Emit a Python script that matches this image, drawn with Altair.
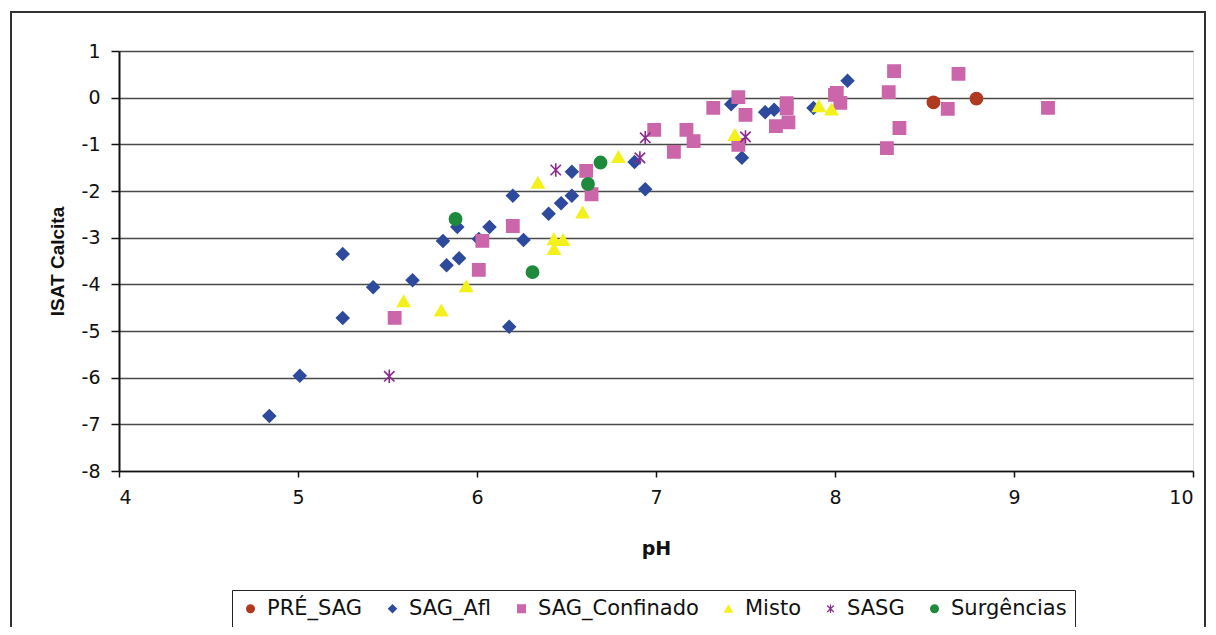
import altair as alt
import pandas as pd

series = ["PRÉ_SAG", "SAG_Afl", "SAG_Confinado", "Misto", "SASG", "Surgências"]
colors = ["#b0391f", "#2d4a9c", "#cc66aa", "#f4f01c", "#8a2a8e", "#1e8a3c"]
ASTERISK = "M-0.85,-0.85L0.85,0.85M-0.85,0.85L0.85,-0.85M0,-1.1L0,1.1"
shapes = ["circle", "diamond", "square", "triangle-up", ASTERISK, "circle"]

pre_sag_ph = [8.55, 8.79]
pre_sag_isat = [-0.10, -0.02]

sag_afl_ph = [4.84, 5.01, 5.25, 5.25, 5.42, 5.64, 5.81, 5.83, 5.89, 5.90, 6.01, 6.07,
              6.20, 6.18, 6.26, 6.40, 6.47, 6.53, 6.53, 6.88, 6.94, 7.42, 7.48, 7.61,
              7.66, 7.88, 8.07]
sag_afl_isat = [-6.82, -5.96, -3.35, -4.72, -4.06, -3.91, -3.07, -3.59, -2.77, -3.44,
                -3.03, -2.77, -2.10, -4.91, -3.05, -2.49, -2.26, -2.10, -1.59, -1.38,
                -1.96, -0.14, -1.29, -0.31, -0.26, -0.22, 0.36]

sag_conf_ph = [5.54, 6.01, 6.03, 6.20, 6.61, 6.64, 6.99, 7.10, 7.17, 7.21, 7.32, 7.46,
               7.50, 7.46, 7.73, 7.73, 7.67, 7.74, 8.00, 8.01, 8.03, 8.30, 8.33, 8.36,
               8.29, 8.69, 8.63, 9.19]
sag_conf_isat = [-4.72, -3.69, -3.07, -2.75, -1.57, -2.07, -0.69, -1.16, -0.69, -0.93,
                 -0.22, 0.01, -0.37, -1.01, -0.12, -0.23, -0.61, -0.53, 0.06, 0.10,
                 -0.11, 0.12, 0.57, -0.65, -1.08, 0.51, -0.24, -0.22]

misto_ph = [5.59, 5.80, 5.94, 6.34, 6.43, 6.48, 6.43, 6.59, 6.79, 7.44, 7.91, 7.98]
misto_isat = [-4.36, -4.56, -4.04, -1.82, -3.03, -3.05, -3.24, -2.46, -1.27, -0.80,
              -0.18, -0.25]

sasg_ph = [5.51, 6.44, 6.94, 6.91, 7.50]
sasg_isat = [-5.97, -1.55, -0.86, -1.29, -0.84]

surg_ph = [5.88, 6.31, 6.69, 6.62]
surg_isat = [-2.60, -3.74, -1.39, -1.85]

x_ticks = [4, 5, 6, 7, 8, 9, 10]
y_ticks = [-8, -7, -6, -5, -4, -3, -2, -1, 0, 1]

rows = []
for name, xs, ys in [
    ("PRÉ_SAG", pre_sag_ph, pre_sag_isat),
    ("SAG_Afl", sag_afl_ph, sag_afl_isat),
    ("SAG_Confinado", sag_conf_ph, sag_conf_isat),
    ("Misto", misto_ph, misto_isat),
    ("SASG", sasg_ph, sasg_isat),
    ("Surgências", surg_ph, surg_isat),
]:
    for xv, yv in zip(xs, ys):
        rows.append({"serie": name, "pH": xv, "isat": yv})
df = pd.DataFrame(rows)
df["ordem"] = range(len(df))

TXT = "DejaVu Sans"

legend = alt.Legend(
    orient="none", legendX=113, legendY=539, direction="horizontal", columns=6,
    title=None, labelFont=TXT, labelFontSize=21, labelColor="#111", labelLimit=400,
    symbolSize=60, symbolStrokeWidth=1.2, strokeColor="#222", padding=8,
    columnPadding=19, labelOffset=6, fillColor="white",
)

points = alt.Chart(df).mark_point(filled=True, size=150, strokeWidth=1.6, opacity=1).encode(
    x=alt.X("pH:Q", scale=alt.Scale(domain=[4, 10], nice=False, zero=False),
            axis=alt.Axis(values=x_ticks, title="pH", grid=False, format="d",
                          labelFont=TXT, labelFontSize=19, labelColor="#111",
                          labelPadding=11, tickSize=6, tickColor="#111", tickWidth=1.5,
                          domainColor="#111", domainWidth=1.5,
                          titleFont=TXT, titleFontSize=19, titleFontWeight="bold",
                          titleColor="#111", titlePadding=32)),
    y=alt.Y("isat:Q", scale=alt.Scale(domain=[-8, 1], nice=False, zero=False),
            axis=alt.Axis(values=y_ticks, title="ISAT Calcita", grid=True, format="d",
                          labelExpr="replace(datum.label, '\u2212', '-')",
                          gridColor="#4a4a4a", gridWidth=1.6,
                          labelFont=TXT, labelFontSize=19, labelColor="#111",
                          labelPadding=11, tickSize=8, tickColor="#111", tickWidth=1.5,
                          domainColor="#111", domainWidth=2,
                          titleFont="Liberation Sans", titleFontSize=19,
                          titleFontWeight="bold", titleColor="#111", titlePadding=14)),
    color=alt.Color("serie:N", scale=alt.Scale(domain=series, range=colors), legend=legend),
    stroke=alt.Stroke("serie:N", scale=alt.Scale(domain=series, range=colors), legend=legend),
    shape=alt.Shape("serie:N", scale=alt.Scale(domain=series, range=shapes), legend=legend),
    order=alt.Order("ordem:Q"),
)

frame = alt.Chart(df).mark_rect(fillOpacity=0, stroke="#333", strokeWidth=1.5).encode(
    x=alt.value(-108), x2=alt.value(1086), y=alt.value(-39), y2=alt.value(640)
)

chart = alt.layer(frame, points).properties(
    width=1074, height=420,
    autosize=alt.AutoSizeParams(type="none"),
    padding={"left": 111, "top": 43, "right": 14, "bottom": 156},
).configure_view(stroke=None).configure(background="white")

chart.save("out.html", embed_options={"renderer": "svg", "actions": False})
